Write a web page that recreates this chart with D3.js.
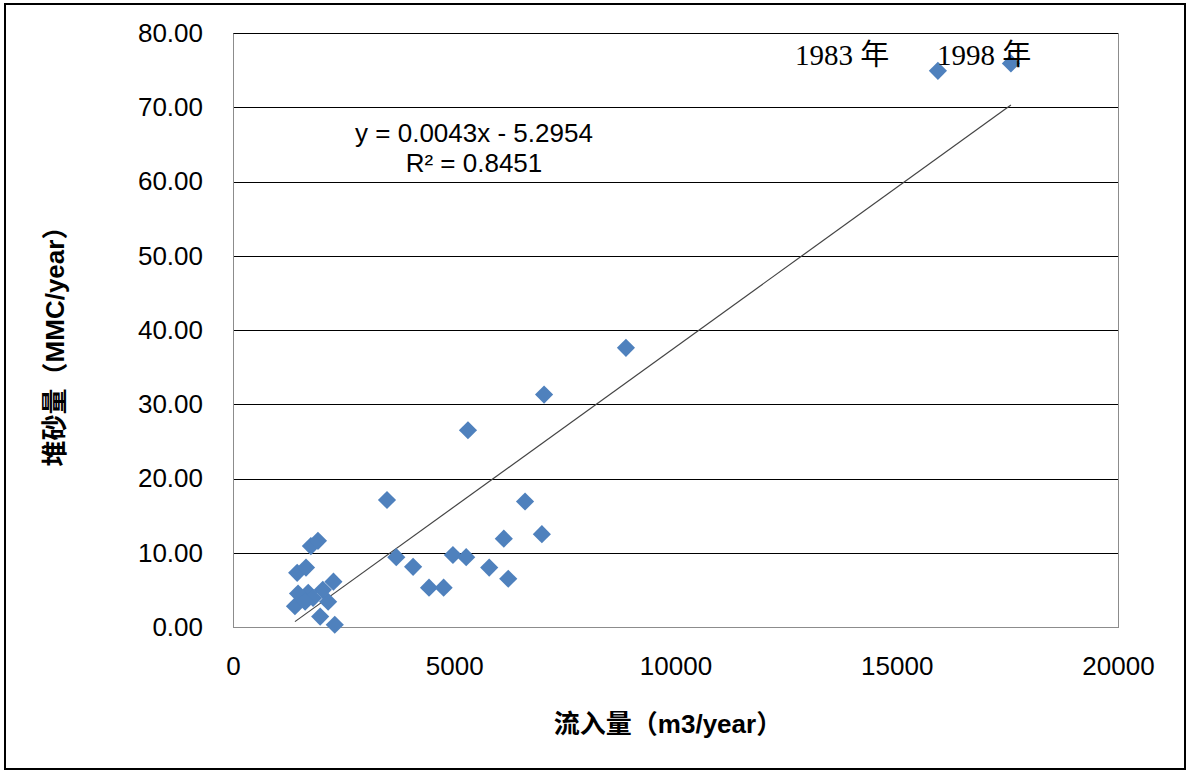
<!DOCTYPE html>
<html>
<head>
<meta charset="utf-8">
<script src="https://cdn.jsdelivr.net/npm/d3@7"></script>
<style>
  body { margin: 0; background: #fff; }
  svg { display: block; }
</style>
</head>
<body>
<svg id="chart" width="1189" height="771"></svg>
<script>
// inflow (m3/year) vs sediment (MMC/year)
var inflow = [15930, 17580, 8880, 7030, 5310, 3480, 6600, 6980, 6120, 3690,
    4970, 5270, 4070, 5790, 6220, 4430, 4760,
    1760, 1920, 1450, 1650, 2270, 1400, 1970, 2300, 2150, 1700, 2030, 1470, 1810, 1630];
var sediment = [74.9, 75.9, 37.6, 31.3, 26.5, 17.1, 16.9, 12.5, 11.9, 9.4,
    9.7, 9.4, 8.1, 8.0, 6.5, 5.3, 5.3,
    10.9, 11.6, 7.3, 8.0, 6.1, 2.8, 1.4, 0.3, 3.4, 4.6, 5.0, 4.5, 3.9, 3.4];
var yTicks = [0, 10, 20, 30, 40, 50, 60, 70, 80];
var xTicks = [0, 5000, 10000, 15000, 20000];
var slope = 0.0043, intercept = -5.2954;
var notes = [{label: '1983 年', x: 15930}, {label: '1998 年', x: 17580}];

draw();

function draw() {
    var svg = d3.select('#chart');
    var pLeft = 233, pRight = 1118, pTop = 33, pBottom = 627;
    var sans = 'Liberation Sans, Arial, "Noto Sans CJK SC", sans-serif';

    var x = d3.scaleLinear().domain([0, 20000]).range([pLeft, pRight]);
    var y = d3.scaleLinear().domain([0, 80]).range([pBottom, pTop]);

    // outer frame
    svg.append('rect')
        .attr('x', 5).attr('y', 4).attr('width', 1180).attr('height', 765)
        .attr('fill', 'none').attr('stroke', '#000').attr('stroke-width', 2);

    // plot area border
    svg.append('rect')
        .attr('x', pLeft + 0.5).attr('y', pTop + 0.5)
        .attr('width', pRight - pLeft).attr('height', pBottom - pTop)
        .attr('fill', 'none').attr('stroke', '#8c8c8c').attr('stroke-width', 1);

    // gridlines
    svg.append('g')
        .selectAll('line')
        .data(yTicks.filter(function (d) { return d > 0; }))
        .enter()
        .append('line')
        .attr('x1', pLeft).attr('x2', pRight)
        .attr('y1', function (d) { return Math.round(y(d)) + 0.5; })
        .attr('y2', function (d) { return Math.round(y(d)) + 0.5; })
        .attr('stroke', '#000').attr('stroke-width', 1);

    // axes, no tick marks
    var yAxis = svg.append('g')
        .attr('transform', 'translate(' + pLeft + ',0)')
        .call(d3.axisLeft(y).tickValues(yTicks).tickSize(0).tickPadding(30)
            .tickFormat(function (d) { return d.toFixed(2); }));
    var xAxis = svg.append('g')
        .attr('transform', 'translate(0,' + pBottom + ')')
        .call(d3.axisBottom(x).tickValues(xTicks).tickSize(0).tickPadding(30)
            .tickFormat(function (d) { return d; }));
    [yAxis, xAxis].forEach(function (a) {
        a.select('.domain').attr('stroke', '#8c8c8c');
        a.selectAll('text')
            .attr('font-family', sans)
            .attr('font-size', 26).attr('fill', '#000');
    });

    // trend line
    var xs = d3.extent(inflow);
    svg.append('line')
        .attr('x1', x(xs[0])).attr('y1', y(slope * xs[0] + intercept))
        .attr('x2', x(xs[1])).attr('y2', y(slope * xs[1] + intercept))
        .attr('stroke', '#444').attr('stroke-width', 1.2);

    // points
    svg.append('g')
        .selectAll('path')
        .data(d3.zip(inflow, sediment))
        .enter()
        .append('path')
        .attr('d', d3.symbol().type(d3.symbolSquare).size(165))
        .attr('transform', function (d) {
            return 'translate(' + x(d[0]) + ',' + y(d[1]) + ') rotate(45)';
        })
        .attr('fill', '#4f81bd');

    // equation
    var eq = svg.append('text')
        .attr('font-family', sans)
        .attr('font-size', 26).attr('text-anchor', 'middle').attr('fill', '#000');
    eq.append('tspan').attr('x', 474).attr('y', 142).text('y = 0.0043x - 5.2954');
    eq.append('tspan').attr('x', 474).attr('y', 172).text('R² = 0.8451');

    // year notes
    svg.append('g')
        .selectAll('text')
        .data(notes)
        .enter()
        .append('text')
        .attr('x', function (d, i) { return x(d.x) - (i === 0 ? 143 : 74); })
        .attr('y', 65)
        .attr('font-family', 'Liberation Serif, "Times New Roman", "Noto Sans CJK SC", serif')
        .attr('font-size', 29).attr('fill', '#000')
        .text(function (d) { return d.label; });

    // axis titles
    svg.append('text')
        .attr('x', 668).attr('y', 733)
        .attr('text-anchor', 'middle')
        .attr('font-family', sans)
        .attr('font-size', 26).attr('font-weight', 'bold')
        .text('流入量（m3/year）');
    svg.append('text')
        .attr('transform', 'translate(64,340) rotate(-90)')
        .attr('text-anchor', 'middle')
        .attr('font-family', sans)
        .attr('font-size', 26).attr('font-weight', 'bold')
        .text('堆砂量（MMC/year）');
}
</script>
</body>
</html>
